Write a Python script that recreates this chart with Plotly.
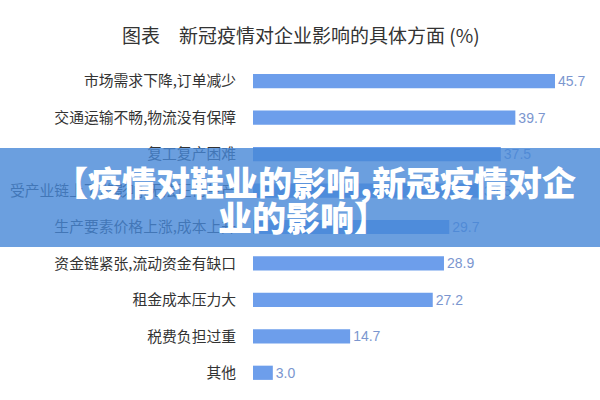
import plotly.graph_objects as go

categories = [
    "市场需求下降,订单减少",
    "交通运输不畅,物流没有保障",
    "复工复产困难",
    "受产业链上下游影响,无法正常生产",
    "生产要素价格上涨,成本上升",
    "资金链紧张,流动资金有缺口",
    "租金成本压力大",
    "税费负担过重",
    "其他",
]
values = [45.7, 39.7, 37.5, 34.5, 29.7, 28.9, 27.2, 14.7, 3.0]
value_labels = [f"{v:.1f}" for v in values]

chart_title = "图表　新冠疫情对企业影响的具体方面 (%)"
banner_line1 = "【疫情对鞋业的影响,新冠疫情对企"
banner_line2 = "业的影响】"

W, H = 600, 400
ML, MR, MT, MB = 253, 45, 63, 9
PW = W - ML - MR
PH = H - MT - MB


def px_x(x):
    return (x - ML) / PW


def px_y(y):
    return (H - MB - y) / PH


fig = go.Figure(
    go.Bar(
        x=values,
        y=categories,
        orientation="h",
        width=0.39,
        marker=dict(color="#6d9eeb", line=dict(width=0)),
        text=value_labels,
        textposition="outside",
        constraintext="none",
        cliponaxis=False,
        outsidetextfont=dict(family="Liberation Sans, Arial, sans-serif", size=14, color="#7b96cf"),
        hoverinfo="skip",
    )
)

fig.update_layout(
    width=W,
    height=H,
    margin=dict(l=ML, r=MR, t=MT, b=MB, autoexpand=False),
    paper_bgcolor="white",
    plot_bgcolor="white",
    showlegend=False,
    xaxis=dict(range=[0, 45.7], visible=False, fixedrange=True, automargin=False),
    yaxis=dict(
        autorange="reversed",
        automargin=False,
        showgrid=False,
        showline=False,
        zeroline=False,
        ticks="outside",
        ticklen=13,
        tickcolor="rgba(0,0,0,0)",
        tickfont=dict(family="Noto Sans CJK SC", size=14.8, color="#333333"),
        fixedrange=True,
    ),
    shapes=[
        dict(
            type="rect",
            xref="paper",
            yref="paper",
            x0=px_x(0),
            x1=px_x(W),
            y0=px_y(247),
            y1=px_y(148),
            fillcolor="rgba(70,135,215,0.8)",
            line=dict(width=0),
            layer="above",
        )
    ],
    annotations=[
        dict(
            text=chart_title,
            xref="paper",
            yref="paper",
            x=px_x(301),
            y=px_y(35),
            xanchor="center",
            yanchor="middle",
            showarrow=False,
            font=dict(family="Noto Sans CJK SC", size=19, color="#333333"),
        ),
        dict(
            text=banner_line1,
            xref="paper",
            yref="paper",
            x=px_x(315),
            y=px_y(181),
            xanchor="center",
            yanchor="middle",
            showarrow=False,
            font=dict(family="Noto Sans CJK SC", size=34, color="white", weight=900),
        ),
        dict(
            text=banner_line2,
            xref="paper",
            yref="paper",
            x=px_x(303),
            y=px_y(216),
            xanchor="center",
            yanchor="middle",
            showarrow=False,
            font=dict(family="Noto Sans CJK SC", size=34, color="white", weight=900),
        ),
    ],
)

fig.write_html(
    "out.html",
    config={"displayModeBar": False, "staticPlot": True},
    post_script="document.body.style.margin='0';document.body.style.padding='0';",
)
